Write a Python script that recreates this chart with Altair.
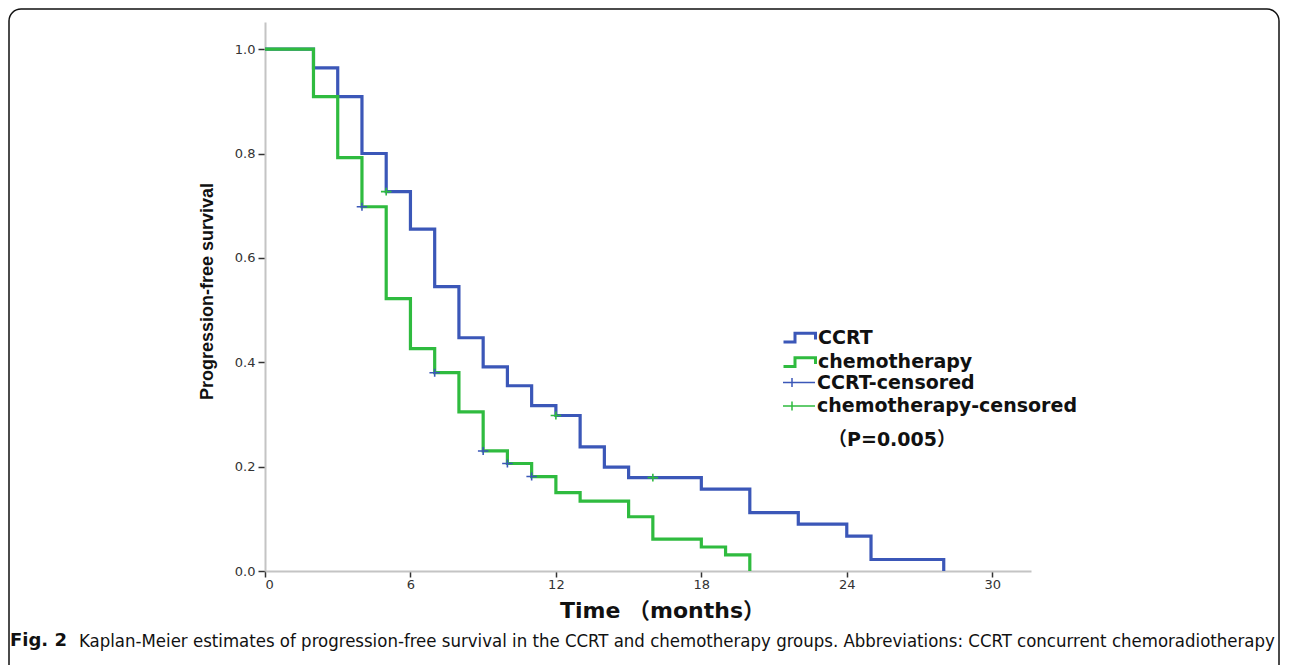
import altair as alt
import pandas as pd

# ---- data ----
ccrt_time = [0, 2, 3, 4, 5, 6, 7, 8, 9, 10, 11, 12, 13, 14, 15, 18, 20, 22, 24, 25, 28]
ccrt_surv = [1.0, 0.964, 0.909, 0.800, 0.727, 0.655, 0.545, 0.447, 0.391, 0.355, 0.317,
             0.298, 0.238, 0.199, 0.179, 0.157, 0.112, 0.090, 0.067, 0.022, 0.0]
chemo_time = [0, 2, 3, 4, 5, 6, 7, 8, 9, 10, 11, 12, 13, 15, 16, 18, 19, 20]
chemo_surv = [1.0, 0.909, 0.792, 0.698, 0.522, 0.426, 0.380, 0.305, 0.230, 0.206, 0.181,
              0.150, 0.134, 0.104, 0.061, 0.046, 0.031, 0.0]

# censor marks as drawn (blue "+" and green "+")
ccrt_cens_time = [4, 7, 9, 10, 11]
ccrt_cens_surv = [0.698, 0.380, 0.230, 0.206, 0.181]
chemo_cens_time = [5, 12, 16]
chemo_cens_surv = [0.727, 0.298, 0.179]

x_ticks = [0, 6, 12, 18, 24, 30]
y_ticks = [0.0, 0.2, 0.4, 0.6, 0.8, 1.0]

groups = ["CCRT", "chemotherapy"]
cens_groups = ["CCRT-censored", "chemotherapy-censored"]
p_text = "（P=0.005）"
caption_bold = "Fig. 2"
caption_text = ("Kaplan-Meier estimates of progression-free survival in the CCRT and chemotherapy "
                "groups. Abbreviations: CCRT concurrent chemoradiotherapy")

BLUE = "#3b57b8"
GREEN = "#2fbb3f"

curves = pd.concat([
    pd.DataFrame({"t": ccrt_time, "s": ccrt_surv, "group": groups[0]}),
    pd.DataFrame({"t": chemo_time, "s": chemo_surv, "group": groups[1]}),
])
cens = pd.concat([
    pd.DataFrame({"t": ccrt_cens_time, "s": ccrt_cens_surv, "group": cens_groups[0]}),
    pd.DataFrame({"t": chemo_cens_time, "s": chemo_cens_surv, "group": cens_groups[1]}),
])

W, H = 766, 549
xs = alt.Scale(domain=[0, 31.6], nice=False, zero=False)
ys = alt.Scale(domain=[0, 1.052], nice=False, zero=False)

x_axis = alt.Axis(values=x_ticks, format="d", title="Time （months）", grid=False,
                  domainColor="#c4c4c4", domainWidth=2, tickColor="#333333", tickWidth=1.5,
                  tickSize=6, labelFont="DejaVu Sans", labelFontSize=13, labelColor="#333333",
                  labelPadding=1, titleFont="DejaVu Sans, Noto Sans CJK SC", titleFontSize=22,
                  titleFontWeight="bold", titleColor="#111111", titlePadding=9, titleX=397)
y_axis = alt.Axis(values=y_ticks, format=".1f", title="Progression-free survival", grid=False,
                  domainColor="#c4c4c4", domainWidth=2, tickColor="#333333", tickWidth=1.5,
                  tickSize=7, labelFont="DejaVu Sans", labelFontSize=13, labelColor="#333333",
                  labelPadding=3, titleFont="Liberation Sans", titleFontSize=18,
                  titleFontWeight="bold", titleColor="#111111", titlePadding=18, titleY=269)

step_path = "M-1.6,0.45L-0.45,0.45L-0.45,-0.42L1.6,-0.42L1.6,0.2"
cross_legend_path = "M-1.6,0L1.6,0M-0.7,-0.45L-0.7,0.45"
cross_mark_path = "M-1,0L1,0M0,-0.75L0,0.75"

leg_common = dict(title=None, orient="none", symbolSize=400, labelFont="DejaVu Sans",
                  labelFontSize=19, labelFontWeight="bold", labelColor="#111111",
                  rowPadding=2.4, labelOffset=7, labelLimit=500, padding=0)

lines = alt.Chart(curves).mark_line(interpolate="step-after", strokeWidth=3.2).encode(
    x=alt.X("t:Q", scale=xs, axis=x_axis),
    y=alt.Y("s:Q", scale=ys, axis=y_axis),
    color=alt.Color("group:N", scale=alt.Scale(domain=groups, range=[BLUE, GREEN]),
                    legend=alt.Legend(legendX=523, legendY=304, symbolType=step_path,
                                      symbolStrokeWidth=3, **leg_common)),
    detail="group:N",
)

points = alt.Chart(cens).mark_point(shape=cross_mark_path, filled=False, size=110,
                                    strokeWidth=1.6, opacity=1).encode(
    x=alt.X("t:Q", scale=xs),
    y=alt.Y("s:Q", scale=ys),
    color=alt.Color("group:N", scale=alt.Scale(domain=cens_groups, range=[BLUE, GREEN]),
                    legend=alt.Legend(legendX=523, legendY=349.5, symbolType=cross_legend_path,
                                      symbolStrokeWidth=1.5, **leg_common)),
)

one = alt.Data(values=[{"k": 1}])

p_label = alt.Chart(one).mark_text(font="DejaVu Sans, Noto Sans CJK SC", fontSize=19,
                                   fontWeight="bold", color="#111111", align="center").encode(
    x=alt.value(627), y=alt.value(418), text=alt.value(p_text))

cap1 = alt.Chart(one).mark_text(font="DejaVu Sans", fontSize=18, fontWeight="bold",
                                color="#111111", align="left", baseline="middle").encode(
    x=alt.value(-255), y=alt.value(619), text=alt.value(caption_bold))
cap2 = alt.Chart(one).mark_text(font="Liberation Sans Narrow, DejaVu Sans Condensed",
                                fontSize=18.45, color="#111111", align="left",
                                baseline="middle").encode(
    x=alt.value(-186), y=alt.value(619), text=alt.value(caption_text))

frame = alt.Chart(one).mark_rect(fillOpacity=0, stroke="#111111", strokeWidth=1.5,
                                 cornerRadius=12).encode(
    x=alt.value(-256), x2=alt.value(1014), y=alt.value(-13), y2=alt.value(660))

chart = alt.layer(frame, lines, points, p_label, cap1, cap2).resolve_scale(
    color="independent"
).properties(
    width=W, height=H,
    autosize=alt.AutoSizeParams(type="none"),
    padding={"left": 257, "top": 14, "right": 250, "bottom": 94},
).configure_view(stroke=None)

chart.save("out.html", embed_options={"renderer": "svg", "actions": False})
